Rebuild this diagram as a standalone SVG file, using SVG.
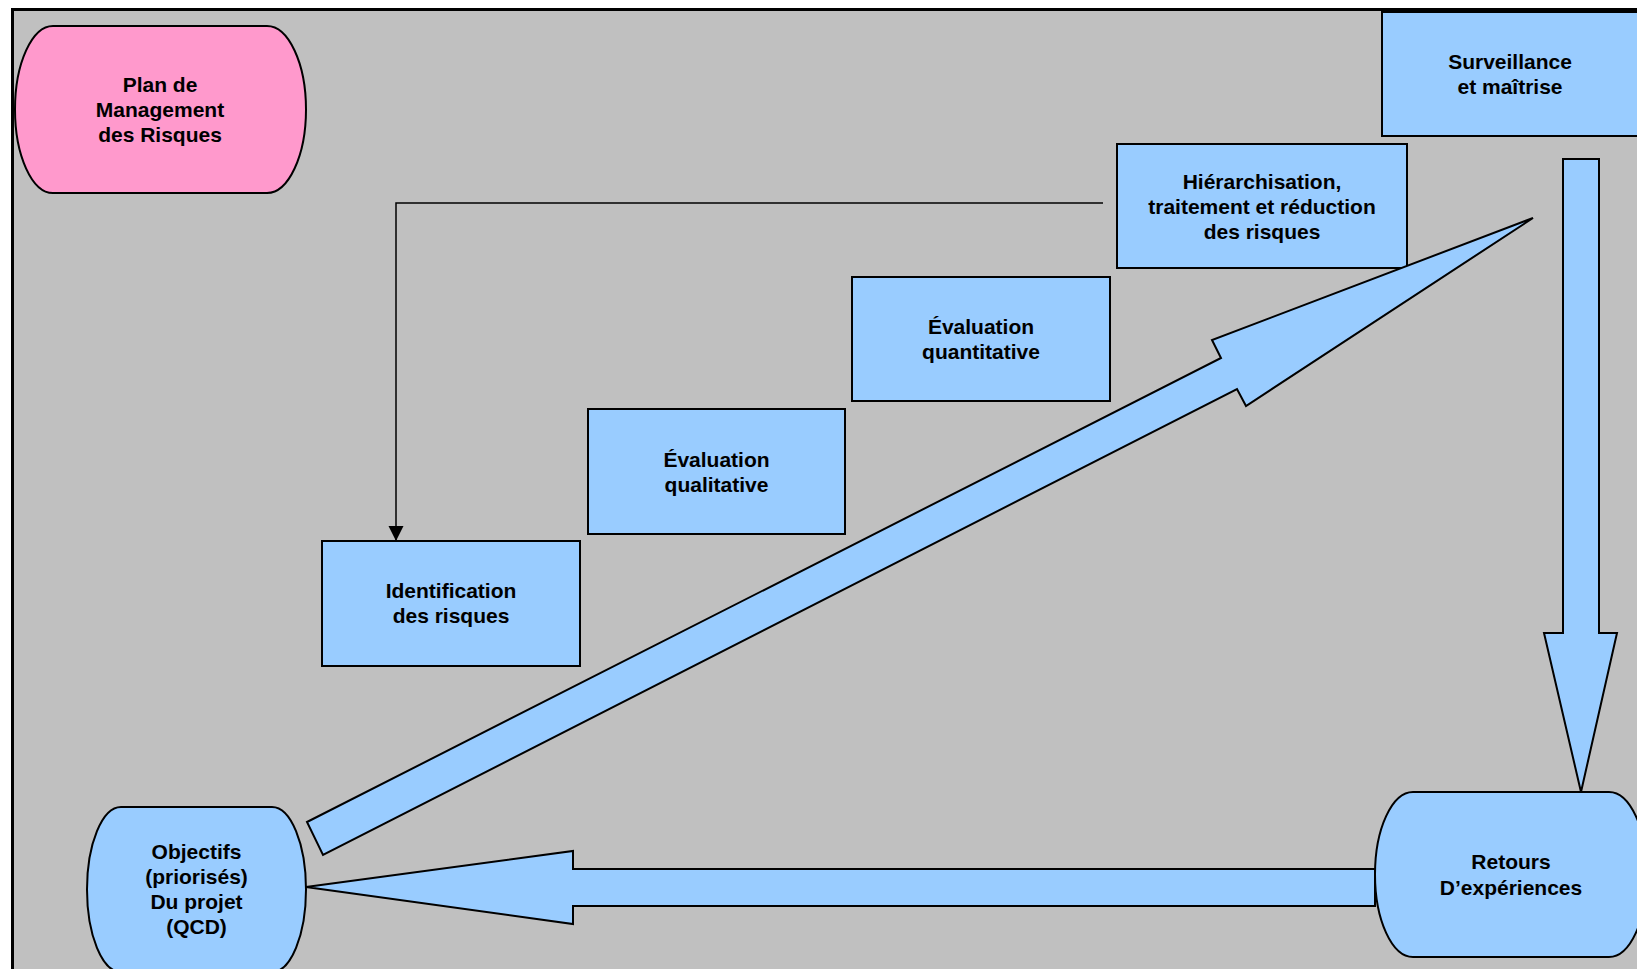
<svg xmlns="http://www.w3.org/2000/svg" width="1637" height="969" viewBox="0 0 1637 969">
  <style>
    .frame { fill: #C0C0C0; stroke: #000; stroke-width: 3; }
    .box { fill: #99CCFF; stroke: #000; stroke-width: 2; }
    .pink { fill: #FF99CC; stroke: #000; stroke-width: 2; }
    .block { fill: #99CCFF; stroke: #000; stroke-width: 2; stroke-linejoin: miter; }
    .link { fill: none; stroke: #000; stroke-width: 1.5; }
    text { font-family: "Liberation Sans", Arial, sans-serif; font-weight: bold; font-size: 21px; fill: #000; text-anchor: middle; }
  </style>
  <defs>
    <marker id="arrow" markerUnits="userSpaceOnUse" markerWidth="16" markerHeight="16" refX="15" refY="8" orient="auto">
      <path d="M0,0.5 L15,8 L0,15.5 Z" fill="#000"/>
    </marker>
  </defs>

  <rect width="1637" height="969" fill="#FFFFFF"/>
  <rect class="frame" x="12.5" y="9.5" width="1700" height="1000"/>

  <!-- Nodes -->
  <g id="plan-management">
    <path class="pink" d="M53,26 L267,26 A39,83.5 0 0 1 267,193 L53,193 A38,83.5 0 0 1 53,26 Z"/>
    <text x="160" y="92">Plan de</text>
    <text x="160" y="117">Management</text>
    <text x="160" y="142">des Risques</text>
  </g>

  <g id="identification">
    <rect class="box" x="322" y="541" width="258" height="125"/>
    <text x="451" y="598">Identification</text>
    <text x="451" y="623">des risques</text>
  </g>

  <g id="evaluation-qualitative">
    <rect class="box" x="588" y="409" width="257" height="125"/>
    <text x="716.5" y="466.5">Évaluation</text>
    <text x="716.5" y="491.5">qualitative</text>
  </g>

  <g id="evaluation-quantitative">
    <rect class="box" x="852" y="277" width="258" height="124"/>
    <text x="981" y="334">Évaluation</text>
    <text x="981" y="359">quantitative</text>
  </g>

  <g id="hierarchisation">
    <rect class="box" x="1117" y="144" width="290" height="124"/>
    <text x="1262" y="189">Hiérarchisation,</text>
    <text x="1262" y="214">traitement et réduction</text>
    <text x="1262" y="239">des risques</text>
  </g>

  <g id="surveillance">
    <rect class="box" x="1382" y="12" width="270" height="124"/>
    <text x="1510" y="69">Surveillance</text>
    <text x="1510" y="94">et maîtrise</text>
  </g>

  <g id="retours">
    <path class="box" d="M1413,792 L1609,792 A38,82.5 0 0 1 1609,957 L1413,957 A38,82.5 0 0 1 1413,792 Z"/>
    <text x="1511" y="869">Retours</text>
    <text x="1511" y="895">D’expériences</text>
  </g>

  <g id="objectifs">
    <path class="box" d="M121,807 L272,807 A34,82.5 0 0 1 272,972 L121,972 A34,82.5 0 0 1 121,807 Z"/>
    <text x="196.5" y="859">Objectifs</text>
    <text x="196.5" y="884">(priorisés)</text>
    <text x="196.5" y="909">Du projet</text>
    <text x="196.5" y="934">(QCD)</text>
  </g>

  <!-- Connectors -->
  <g id="connectors">
    <path class="link" d="M1103,203 L396,203 L396,541" marker-end="url(#arrow)"/>
    <polygon class="block" points="307,822 1221,358 1212,340 1533,218 1246,406 1237,389 323,855"/>
    <polygon class="block" points="1563,159 1599,159 1599,633 1617,633 1581,792 1544,633 1563,633"/>
    <polygon class="block" points="1375,869 573,869 573,851 306,887 573,924 573,906 1375,906"/>
  </g>
</svg>
